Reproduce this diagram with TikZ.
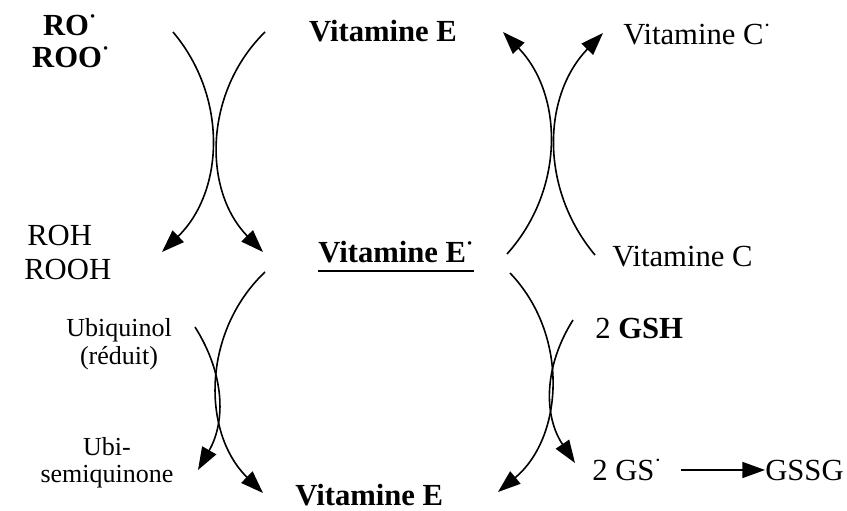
\documentclass[tikz,border=0pt]{standalone}
\usepackage{fontspec}
\setmainfont{Liberation Serif}
\usetikzlibrary{arrows.meta}
\tikzset{%
  mol/.style  = {inner sep=0pt, font=\fontsize{23}{23}\selectfont},
  molb/.style = {inner sep=0pt, font=\fontsize{23}{23}\selectfont\bfseries},
  ubi/.style  = {inner sep=0pt, font=\fontsize{19.5}{19.5}\selectfont},
  rxn/.style  = {-{Triangle[length=17pt,width=12pt]}, line width=1.2pt}
  }
\newcommand{\radic}{\textsuperscript{·}}
\newcommand{\thickul}[1]{\setbox0\hbox{#1}\rlap{\rule[-6.5pt]{\wd0}{1.3pt}}\box0}

\begin{document}
\begin{tikzpicture}[x=0.75pt, y=0.75pt]
  \useasboundingbox (0,0) rectangle (847,511);

  % species
  \node[molb, anchor=base] (ro)   at (70,475)  {RO\radic};
  \node[molb, anchor=base] (roo)  at (71,443)  {ROO\radic};
  \node[molb, anchor=base] (vitE) at (383,469) {Vitamine E};
  \node[mol, anchor=base west] (vitCr) at (623,466) {Vitamine C\radic};

  \node[mol, anchor=base west] (roh)  at (27,265) {ROH};
  \node[mol, anchor=base west] (rooh) at (24,231) {ROOH};
  \node[molb, anchor=base west] (vitEr) at (318,248) {\thickul{Vitamine E\radic}};
  \node[mol, anchor=base west] (vitC) at (612,244) {Vitamine C};

  \node[ubi, anchor=base] (ubq)  at (119,174) {Ubiquinol};
  \node[ubi, anchor=base] (ubqr) at (119,146) {(réduit)};
  \node[ubi, anchor=base] (ubs)  at (107,55)  {Ubi-};
  \node[ubi, anchor=base] (ubsq) at (107,28)  {semiquinone};
  \node[mol, anchor=base west] (gsh) at (595,172) {2 \textbf{GSH}};

  \node[molb, anchor=base west] (vitEb) at (295,6) {Vitamine E};
  \node[mol, anchor=base west] (gsr)  at (592,31) {2 GS\radic};
  \node[mol, anchor=base west] (gssg) at (765,31) {GSSG};

  % ends of the coupled arcs
  \coordinate (roOut)  at (173,479);
  \coordinate (rohIn)  at (162,259);
  \coordinate (eOut)   at (265,479);
  \coordinate (erIn)   at (263,259);
  \coordinate (erOutA) at (507,257);
  \coordinate (eInA)   at (503,479);
  \coordinate (cOut)   at (595,256);
  \coordinate (crIn)   at (603,478);
  \coordinate (ubqOut) at (195,184);
  \coordinate (ubsIn)  at (198,41);
  \coordinate (erOutB) at (265,239);
  \coordinate (eInB)   at (263,18);
  \coordinate (erOutC) at (510,238);
  \coordinate (eInC)   at (498,19);
  \coordinate (gshOut) at (573,191);
  \coordinate (gsIn)   at (575,48);

  \foreach \s/\e/\a in {roOut/rohIn/43, eOut/erIn/-45,
                        erOutA/eInA/-43, cOut/crIn/42,
                        ubqOut/ubsIn/31, erOutB/eInB/-46,
                        erOutC/eInC/47, gshOut/gsIn/-33}
    \draw[rxn] (\s) to[bend left=\a] (\e);

  \draw[rxn, shorten <=14pt] (gsr.east |- gssg.west) -- (gssg.west);
\end{tikzpicture}
\end{document}
